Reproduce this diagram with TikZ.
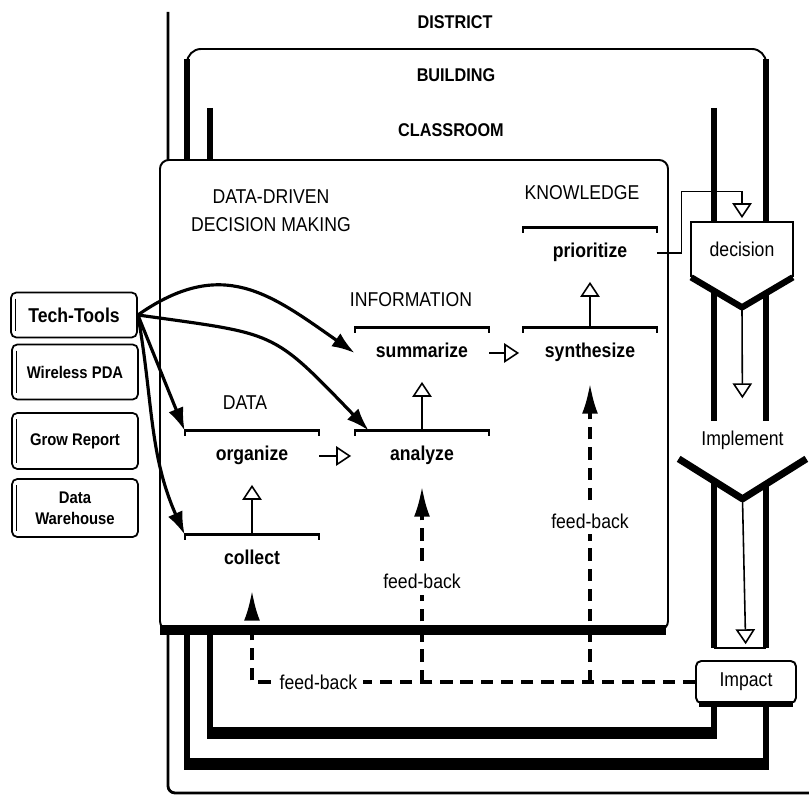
\documentclass[tikz,border=0pt]{standalone}
\usepackage{fontspec}
\setmainfont{Liberation Sans}[FakeStretch=0.88]
\usetikzlibrary{arrows.meta}
\newcommand{\lab}{\fontsize{11.4}{16}\selectfont}
\newcommand{\tl}{\fontsize{9.6}{12}\selectfont\bfseries}

\begin{document}
\begin{tikzpicture}[scale=2,
   edge/.style={line width=1.1pt},
   heavy/.style={line width=3.4pt},
   shade/.style={line width=6.5pt},
   level/.style={font=\fontsize{10.5}{12}\selectfont\bfseries},
   head/.style={font=\lab},
   stage/.style={font=\lab\bfseries,minimum width=2.68cm,inner xsep=0pt,inner ysep=9pt,text height=8pt,text depth=2.5pt},
   toolbox/.style={draw,line width=1pt,rounded corners=3pt,minimum width=2.52cm,align=center,font=\tl},
   flow/.style={line width=0.9pt,-{Triangle[open,length=8.5pt,width=11pt]},shorten >=2pt},
   tool/.style={line width=1.8pt,-{Latex[length=13pt,width=9pt]}},
   feedback/.style={line width=1.8pt,dash pattern=on 7pt off 4.5pt,-{Latex[length=17pt,width=9pt]},shorten >=3pt}]
   \useasboundingbox (0,0) rectangle (8.09,7.97);
   % district / building / classroom frames
   \draw[line width=1.6pt,rounded corners=4pt] (1.68,7.85) -- (1.68,0.04) -- (8.09,0.04);
   \draw[edge,rounded corners=8pt] (1.87,7.1) -- (1.87,7.48) -- (7.66,7.48) -- (7.66,7.1);
   \draw[heavy] (1.87,7.38) -- (1.87,0.33);
   \draw[heavy] (7.66,7.38) -- (7.66,1.49);
   \draw[heavy] (7.66,0.94) -- (7.66,0.33);
   \draw[shade] (1.84,0.33) -- (7.69,0.33);
   \draw[heavy] (2.10,6.89) -- (2.10,0.64);
   \draw[heavy] (7.14,6.89) -- (7.14,1.49);
   \draw[heavy] (7.14,0.94) -- (7.14,0.64);
   \draw[shade] (2.07,0.64) -- (7.17,0.64);
   \draw[edge] (7.14,1.49) -- (7.66,1.49);
   % data-driven decision making box
   \draw[edge,fill=white,rounded corners=5pt] (1.60,1.67) -- (1.60,6.37) -- (6.68,6.37) -- (6.68,1.67) -- cycle;
   \draw[shade,line width=5.5pt] (1.60,1.67) -- (6.66,1.67);
   \node (district)    at (4.55,7.75) [level] {DISTRICT};
   \node (building)    at (4.56,7.22) [level] {BUILDING};
   \node (classroom)   at (4.51,6.67) [level] {CLASSROOM};
   \node (dddm)        at (2.71,5.86) [head,align=center] {DATA-DRIVEN\\DECISION MAKING};
   \node (knowledge)   at (5.82,6.04) [head] {KNOWLEDGE};
   \node (information) at (4.11,4.97) [head] {INFORMATION};
   \node (data)        at (2.45,3.94) [head] {DATA};
   % stages
   \node (prioritize) at (5.90,5.44) [stage] {prioritize};
   \node (synthesize) at (5.90,4.44) [stage] {synthesize};
   \node (summarize)  at (4.22,4.44) [stage] {summarize};
   \node (analyze)    at (4.22,3.41) [stage] {analyze};
   \node (organize)   at (2.52,3.41) [stage] {organize};
   \node (collect)    at (2.52,2.37) [stage] {collect};
   \foreach \s in {prioritize,synthesize,summarize,analyze,organize,collect}
      \draw[line width=1.3pt] ([yshift=-1.5pt]\s.north west) -- (\s.north west) -- (\s.north east) -- ([yshift=-1.5pt]\s.north east);
   % tools
   \node (tech) at (0.74,4.82) [toolbox,minimum height=0.9cm,font=\lab\bfseries] {Tech-Tools};
   \node (pda)  at (0.75,4.25) [toolbox,minimum height=1.1cm] {Wireless PDA};
   \node (grow) at (0.75,3.56) [toolbox,minimum height=1.12cm] {Grow Report};
   \node (wh)   at (0.75,2.89) [toolbox,minimum height=1.16cm] {Data\\Warehouse};
   \foreach \t in {tech,pda,grow,wh}
      \draw[line width=0.7pt] ([xshift=1.5pt,yshift=-2pt]\t.north west) -- ([xshift=1.5pt,yshift=2pt]\t.south west);
   % decision column
   \node (decision) at (7.42,5.475) [fill=white,minimum width=2.02cm,minimum height=1.1cm,font=\lab] {decision};
   \coordinate (dtip) at ([yshift=-0.3cm]decision.south);
   \fill[white] ([yshift=1pt]decision.south west) -- (dtip) -- ([yshift=1pt]decision.south east) -- cycle;
   \draw[edge] (decision.south west) |- (decision.north east) -- (decision.south east);
   \draw[line width=3.6pt,line join=round] (decision.south west) -- (dtip) -- (decision.south east);
   \node (implement) at (7.425,3.57) [fill=white,minimum width=2.54cm,minimum height=0.74cm,font=\lab] {Implement};
   \coordinate (itip) at ([yshift=-0.4cm]implement.south);
   \fill[white] ([yshift=1pt]implement.south west) -- (itip) -- ([yshift=1pt]implement.south east) -- cycle;
   \draw[line width=4pt,line join=round] (implement.south west) -- (itip) -- (implement.south east);
   \node (impact) at (7.46,1.15) [draw,edge,fill=white,rounded corners=3pt,minimum width=2cm,minimum height=0.84cm,font=\lab] {Impact};
   \draw[line width=3pt] ([xshift=1pt]impact.south west) -- ([xshift=-1pt]impact.south east);
   % connectors
   \draw[flow] (prioritize.east) -- ++(0.24,0) |- ([yshift=0.3cm]decision.north) -- (decision.north);
   \draw[flow,shorten >=13pt] (dtip) -- (implement.north);
   \draw[flow,shorten >=9pt] (itip) -- (impact.north);
   \draw[flow] (collect.north) -- (organize.south);
   \draw[flow] (organize.east) -- (analyze.west);
   \draw[flow] (analyze.north) -- (summarize.south);
   \draw[flow] (summarize.east) -- (synthesize.west);
   \draw[flow] (synthesize.north) -- (prioritize.south);
   \draw[tool] (tech.east) to[out=35,in=145,looseness=1.2] (summarize.west);
   \draw[tool] (tech.east) to[out=-8,in=134,looseness=1.4] ([xshift=4pt]analyze.north west);
   \draw[tool] (tech.east) -- (organize.north west);
   \draw[tool] (tech.east) to[out=-80,in=114] (collect.north west);
   \draw[feedback] (impact.west) -| (collect.south) node[pos=0.425,fill=white,font=\lab] {feed-back};
   \draw[feedback] (analyze.south |- impact.west) -- (analyze.south) node[midway,fill=white,font=\lab] {feed-back};
   \draw[feedback] (synthesize.south |- impact.west) -- (synthesize.south) node[pos=0.53,fill=white,font=\lab] {feed-back};
\end{tikzpicture}
\end{document}
